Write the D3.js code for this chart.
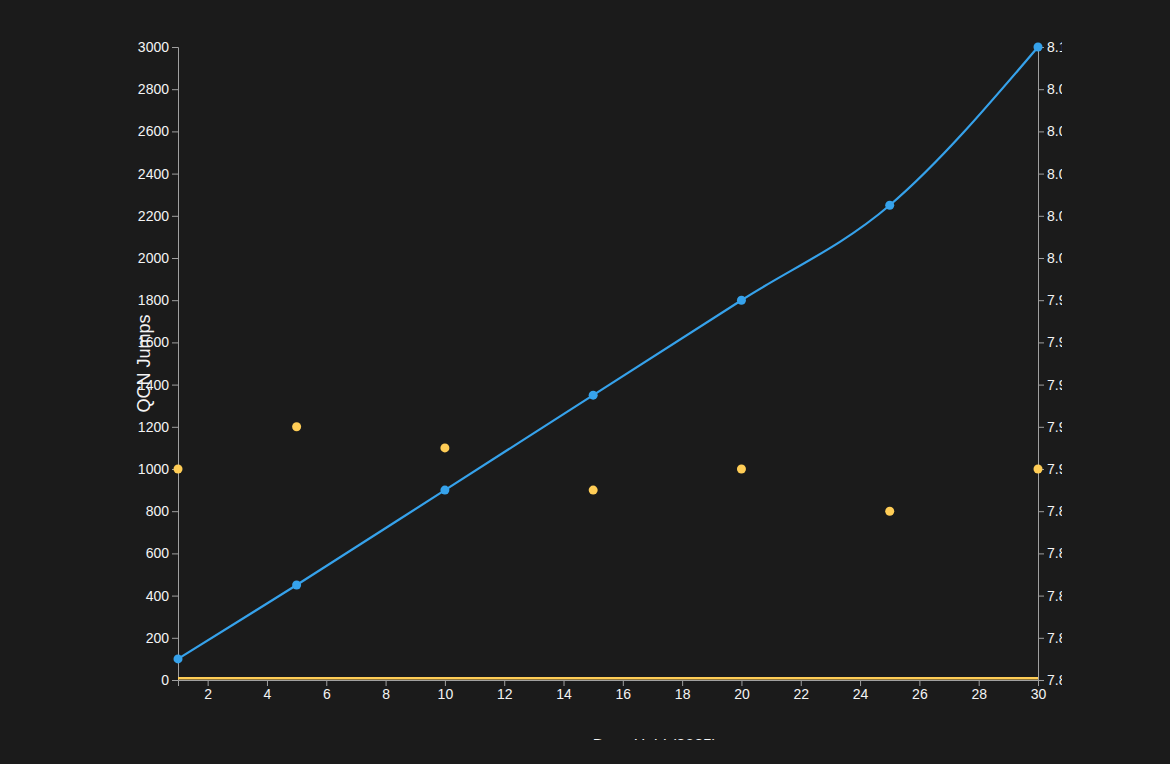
<!DOCTYPE html>
<html>
<head>
<meta charset="utf-8">
<script src="https://cdn.jsdelivr.net/npm/d3@7"></script>
<style>
  html, body { margin: 0; padding: 0; background: #1b1b1b; }
  svg { display: block; overflow: hidden; }
  .axis text { fill: #f4f4f4; font-family: "Liberation Sans", Arial, Helvetica, sans-serif; font-size: 14px; }
  .axis path, .axis line { stroke: #a0a0a0; }
</style>
</head>
<body>
<svg id="chart" width="1062" height="740"></svg>
<script>
const days = [1, 5, 10, 15, 20, 25, 30];
const qcnJumps = [100, 450, 900, 1350, 1800, 2250, 3000];
const secondValues = [7.90, 7.92, 7.91, 7.89, 7.90, 7.88, 7.90];
const leftTicks = d3.range(0, 3001, 200);
const rightTicks = d3.range(0, 16).map(i => 7.8 + i * 0.02);
const xTicks = d3.range(2, 31, 2);
const xLabel = "Days Held (2025)";
const yLabel = "QCN Jumps";

const svg = d3.select("#chart");
const margin = { left: 178, right: 24, top: 47, bottom: 60 };
const W = +svg.attr("width"), H = +svg.attr("height");
const innerW = W - margin.left - margin.right;
const innerH = H - margin.top - margin.bottom;

const x = d3.scaleLinear().domain([1, 30]).range([margin.left, margin.left + innerW]);
const yL = d3.scaleLinear().domain([0, 3000]).range([margin.top + innerH, margin.top]);
const yR = d3.scaleLinear().domain([7.8, 8.1]).range([margin.top + innerH, margin.top]);

const blue = "#36a2eb", orange = "#ffcd56";

svg.append("g").attr("class", "axis")
  .attr("transform", `translate(0,${margin.top + innerH})`)
  .call(d3.axisBottom(x).tickValues(xTicks).tickFormat(d3.format("d")));

svg.append("g").attr("class", "axis")
  .attr("transform", `translate(${margin.left},0)`)
  .call(d3.axisLeft(yL).tickValues(leftTicks).tickFormat(d3.format("d")));

svg.append("g").attr("class", "axis")
  .attr("transform", `translate(${margin.left + innerW},0)`)
  .call(d3.axisRight(yR).tickValues(rightTicks).tickFormat(d3.format(".2f")));

// orange line (plotted against left scale)
svg.append("path")
  .datum(days.map((d, i) => [d, secondValues[i]]))
  .attr("fill", "none").attr("stroke", orange).attr("stroke-width", 2.5)
  .attr("d", d3.line().x(d => x(d[0])).y(d => yL(d[1])));

// blue line
svg.append("path")
  .datum(days.map((d, i) => [d, qcnJumps[i]]))
  .attr("fill", "none").attr("stroke", blue).attr("stroke-width", 2.2)
  .attr("d", d3.line().curve(d3.curveMonotoneX).x(d => x(d[0])).y(d => yL(d[1])));

svg.append("g").selectAll("circle")
  .data(days.map((d, i) => [d, qcnJumps[i]]))
  .join("circle")
  .attr("cx", d => x(d[0])).attr("cy", d => yL(d[1])).attr("r", 4.5).attr("fill", blue);

svg.append("g").selectAll("circle")
  .data(days.map((d, i) => [d, secondValues[i]]))
  .join("circle")
  .attr("cx", d => x(d[0])).attr("cy", d => yR(d[1])).attr("r", 4.5).attr("fill", orange);

svg.append("text")
  .attr("transform", `translate(150,${margin.top + innerH / 2}) rotate(-90)`)
  .attr("text-anchor", "middle")
  .attr("fill", "#f4f4f4")
  .style("font-family", "Liberation Sans, Arial, sans-serif")
  .style("font-size", "18px")
  .text(yLabel);

svg.append("text")
  .attr("x", 655).attr("y", 751)
  .attr("text-anchor", "middle")
  .attr("fill", "#f4f4f4")
  .style("font-family", "Liberation Sans, Arial, sans-serif")
  .style("font-size", "16px")
  .text(xLabel);
</script>
</body>
</html>
